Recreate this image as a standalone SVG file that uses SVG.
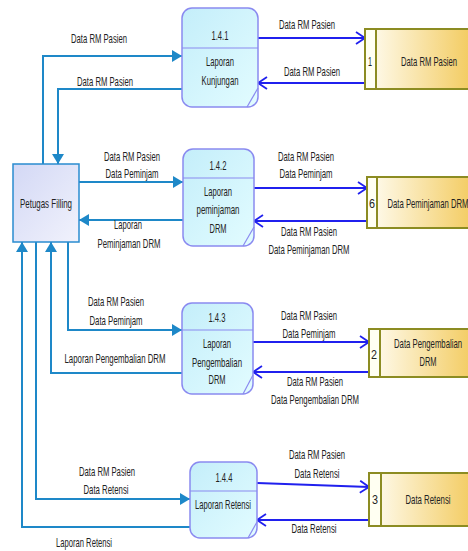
<svg xmlns="http://www.w3.org/2000/svg" width="468" height="551" viewBox="0 0 468 551">
<style>
text { font-family: "Liberation Sans", Arial, sans-serif; font-size: 13px; fill: #222; text-anchor: middle; }
.proc { fill: url(#gProc); stroke: #8a8af0; stroke-width: 1.5; }
.div { stroke: #8a8af0; stroke-width: 1.2; fill: none; }
.ent { fill: url(#gEnt); stroke: #2a8cd0; stroke-width: 1.5; }
.store { fill: url(#gStore); stroke: none; }
.sline { stroke: #8c8c22; stroke-width: 2; fill: none; }
.snum { fill: #fffff2; stroke: none; }
.lf { stroke: #1e88c8; stroke-width: 2; fill: none; marker-end: url(#aFill); }
.rt { stroke: #2020ee; stroke-width: 2; fill: none; marker-end: url(#aOpen); }
</style>
<defs>
<linearGradient id="gProc" x1="0" y1="0" x2="1" y2="1">
<stop offset="0" stop-color="#c4eefa"/>
<stop offset="1" stop-color="#e2fcff"/>
</linearGradient>
<linearGradient id="gEnt" x1="0" y1="0" x2="1" y2="1">
<stop offset="0" stop-color="#d3d8f5"/>
<stop offset="1" stop-color="#f1f2fc"/>
</linearGradient>
<linearGradient id="gStore" x1="0" y1="0" x2="1" y2="0">
<stop offset="0" stop-color="#fffdf4"/>
<stop offset="1" stop-color="#f3cc62"/>
</linearGradient>
<marker id="aFill" markerUnits="userSpaceOnUse" markerWidth="11" markerHeight="12" refX="10" refY="6" orient="auto">
<path d="M0,0 L10,6 L0,12 z" fill="#1e88c8"/>
</marker>
<marker id="aOpen" markerUnits="userSpaceOnUse" markerWidth="12" markerHeight="14" refX="10" refY="7" orient="auto">
<path d="M1,1 L10,7 L1,13" fill="none" stroke="#2020ee" stroke-width="1.8"/>
</marker>
</defs>

<g id="connectors">
<path class="lf" d="M43,164 V56 H182"/>
<path class="lf" d="M182,89 H58 V164"/>
<path class="lf" d="M79,182 H183"/>
<path class="lf" d="M183,220 H79"/>
<path class="lf" d="M68,242 V330 H182"/>
<path class="lf" d="M182,373 H51 V242"/>
<path class="lf" d="M36,242 V499 H190"/>
<path class="lf" d="M190,527 H22 V242"/>
<path class="rt" d="M258,38 H365"/>
<path class="rt" d="M365,83 H258"/>
<path class="rt" d="M254,188 H367"/>
<path class="rt" d="M367,221 H254"/>
<path class="rt" d="M253,342 H369"/>
<path class="rt" d="M369,372 H253"/>
<path class="rt" d="M257,483 L369,487"/>
<path class="rt" d="M369,520 H257"/>
<text x="99" y="43" textLength="56" lengthAdjust="spacingAndGlyphs">Data RM Pasien</text>
<text x="105" y="86" textLength="56" lengthAdjust="spacingAndGlyphs">Data RM Pasien</text>
<text x="307" y="29" textLength="56" lengthAdjust="spacingAndGlyphs">Data RM Pasien</text>
<text x="312" y="76" textLength="56" lengthAdjust="spacingAndGlyphs">Data RM Pasien</text>
<text x="132" y="161" textLength="56" lengthAdjust="spacingAndGlyphs">Data RM Pasien</text>
<text x="132" y="178" textLength="53" lengthAdjust="spacingAndGlyphs">Data Peminjam</text>
<text x="128" y="229" textLength="28" lengthAdjust="spacingAndGlyphs">Laporan</text>
<text x="129" y="248" textLength="63" lengthAdjust="spacingAndGlyphs">Peminjaman DRM</text>
<text x="306" y="161" textLength="56" lengthAdjust="spacingAndGlyphs">Data RM Pasien</text>
<text x="306" y="178" textLength="53" lengthAdjust="spacingAndGlyphs">Data Peminjam</text>
<text x="309" y="236" textLength="56" lengthAdjust="spacingAndGlyphs">Data RM Pasien</text>
<text x="309" y="254" textLength="81" lengthAdjust="spacingAndGlyphs">Data Peminjaman DRM</text>
<text x="116" y="306" textLength="56" lengthAdjust="spacingAndGlyphs">Data RM Pasien</text>
<text x="116" y="325" textLength="53" lengthAdjust="spacingAndGlyphs">Data Peminjam</text>
<text x="115" y="363" textLength="101" lengthAdjust="spacingAndGlyphs">Laporan Pengembalian DRM</text>
<text x="309" y="320" textLength="56" lengthAdjust="spacingAndGlyphs">Data RM Pasien</text>
<text x="309" y="338" textLength="53" lengthAdjust="spacingAndGlyphs">Data Peminjam</text>
<text x="315" y="386" textLength="56" lengthAdjust="spacingAndGlyphs">Data RM Pasien</text>
<text x="315" y="404" textLength="88" lengthAdjust="spacingAndGlyphs">Data Pengembalian DRM</text>
<text x="107" y="476" textLength="56" lengthAdjust="spacingAndGlyphs">Data RM Pasien</text>
<text x="106" y="494" textLength="45" lengthAdjust="spacingAndGlyphs">Data Retensi</text>
<text x="84" y="547" textLength="56" lengthAdjust="spacingAndGlyphs">Laporan Retensi</text>
<text x="317" y="459" textLength="56" lengthAdjust="spacingAndGlyphs">Data RM Pasien</text>
<text x="317" y="478" textLength="45" lengthAdjust="spacingAndGlyphs">Data Retensi</text>
<text x="314" y="533" textLength="45" lengthAdjust="spacingAndGlyphs">Data Retensi</text>
</g>

<g id="petugas-filling">
<rect class="ent" x="13" y="164" width="66" height="78"/>
<text x="46" y="208" textLength="52" lengthAdjust="spacingAndGlyphs">Petugas Filling</text>
</g>

<g id="p141">
<rect class="proc" x="182" y="8" width="76" height="99" rx="10"/>
<line class="div" x1="182" y1="48" x2="258" y2="48"/>
<line class="div" x1="247" y1="107" x2="258" y2="88"/>
<text x="220" y="40" textLength="17" lengthAdjust="spacingAndGlyphs">1.4.1</text>
<text x="220" y="66" textLength="28" lengthAdjust="spacingAndGlyphs">Laporan</text>
<text x="220" y="85" textLength="37" lengthAdjust="spacingAndGlyphs">Kunjungan</text>
</g>

<g id="p142">
<rect class="proc" x="183" y="149" width="71" height="97" rx="10"/>
<line class="div" x1="183" y1="178" x2="254" y2="178"/>
<line class="div" x1="243" y1="246" x2="254" y2="227"/>
<text x="218" y="170" textLength="17" lengthAdjust="spacingAndGlyphs">1.4.2</text>
<text x="218" y="196" textLength="28" lengthAdjust="spacingAndGlyphs">Laporan</text>
<text x="218" y="214" textLength="43" lengthAdjust="spacingAndGlyphs">peminjaman</text>
<text x="218" y="233" textLength="17" lengthAdjust="spacingAndGlyphs">DRM</text>
</g>

<g id="p143">
<rect class="proc" x="182" y="303" width="71" height="91" rx="10"/>
<line class="div" x1="182" y1="330" x2="253" y2="330"/>
<line class="div" x1="243" y1="394" x2="253" y2="375"/>
<text x="217" y="322" textLength="17" lengthAdjust="spacingAndGlyphs">1.4.3</text>
<text x="217" y="348" textLength="28" lengthAdjust="spacingAndGlyphs">Laporan</text>
<text x="217" y="367" textLength="50" lengthAdjust="spacingAndGlyphs">Pengembalian</text>
<text x="217" y="384" textLength="17" lengthAdjust="spacingAndGlyphs">DRM</text>
</g>

<g id="p144">
<rect class="proc" x="190" y="462" width="67" height="76" rx="10"/>
<line class="div" x1="190" y1="491" x2="257" y2="491"/>
<line class="div" x1="248" y1="538" x2="257" y2="522"/>
<text x="224" y="482" textLength="17" lengthAdjust="spacingAndGlyphs">1.4.4</text>
<text x="223" y="509" textLength="56" lengthAdjust="spacingAndGlyphs">Laporan Retensi</text>
</g>

<g id="store1">
<rect class="store" x="365" y="29" width="105" height="60"/>
<rect class="snum" x="365" y="29" width="11" height="60"/>
<path class="sline" d="M470,29 H365 V89 H470 M376,29 V89"/>
<text x="370" y="66" textLength="4" lengthAdjust="spacingAndGlyphs">1</text>
<text x="429" y="66" textLength="56" lengthAdjust="spacingAndGlyphs">Data RM Pasien</text>
</g>

<g id="store6">
<rect class="store" x="367" y="177" width="105" height="51"/>
<rect class="snum" x="367" y="177" width="10" height="51"/>
<path class="sline" d="M472,177 H367 V228 H472 M377,177 V228"/>
<text x="372" y="208" textLength="6" lengthAdjust="spacingAndGlyphs">6</text>
<text x="428" y="208" textLength="81" lengthAdjust="spacingAndGlyphs">Data Peminjaman DRM</text>
</g>

<g id="store2">
<rect class="store" x="369" y="329" width="103" height="48"/>
<rect class="snum" x="369" y="329" width="11" height="48"/>
<path class="sline" d="M472,329 H369 V377 H472 M380,329 V377"/>
<text x="374" y="359" textLength="6" lengthAdjust="spacingAndGlyphs">2</text>
<text x="428" y="348" textLength="68" lengthAdjust="spacingAndGlyphs">Data Pengembalian</text>
<text x="428" y="366" textLength="17" lengthAdjust="spacingAndGlyphs">DRM</text>
</g>

<g id="store3">
<rect class="store" x="369" y="473" width="103" height="53"/>
<rect class="snum" x="369" y="473" width="12" height="53"/>
<path class="sline" d="M472,473 H369 V526 H472 M381,473 V526"/>
<text x="375" y="504" textLength="6" lengthAdjust="spacingAndGlyphs">3</text>
<text x="428" y="504" textLength="45" lengthAdjust="spacingAndGlyphs">Data Retensi</text>
</g>
</svg>
